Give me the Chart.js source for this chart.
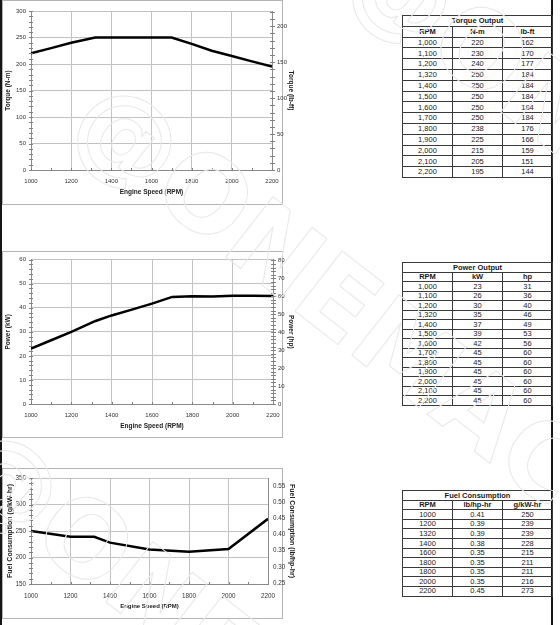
<!DOCTYPE html>
<html>
<head>
<meta charset="utf-8">
<script src="https://cdn.jsdelivr.net/npm/chart.js@4.4.0/dist/chart.umd.min.js"></script>
<style>
    body { margin: 0; width: 560px; height: 625px; position: relative; overflow: hidden; background: #fff; }
    .edge { position: absolute; top: 0; width: 2px; height: 625px; background: #151515; }
    .box { position: absolute; left: 2px; width: 281px; border: 1px solid #b4b4b4; box-sizing: border-box; }
    canvas { position: absolute; left: 0; }
    table { position: absolute; left: 402px; width: 151px; border-collapse: collapse; table-layout: fixed;
        font-family: "Liberation Sans Narrow", "Liberation Sans", sans-serif; font-size: 7.5px; color: #1a1a1a; }
    td { border: 1px solid #3a3a3a; text-align: center; padding: 0; line-height: 1; }
    td.h { font-weight: bold; }
    .wm { position: absolute; font-family: "DejaVu Sans", sans-serif; font-weight: bold; font-size: 105px;
        color: transparent; -webkit-text-stroke: 1px #e8e8e8; white-space: nowrap; transform-origin: 0 0; pointer-events: none; }
</style>
</head>
<body>
<div class="edge" style="left:0"></div>
<div class="edge" style="left:551px"></div>

<div class="box" style="top:0;height:205px"></div>
<div class="box" style="top:251px;height:187px"></div>
<div class="box" style="top:468px;height:151px"></div>

<canvas id="torque" width="300" height="204" style="top:0"></canvas>
<canvas id="power" width="300" height="187" style="top:251px"></canvas>
<canvas id="fuel" width="300" height="150" style="top:468px"></canvas>

<table id="torqueTable" style="top:15px"></table>
<table id="powerTable" style="top:262px"></table>
<table id="fuelTable" style="top:490px"></table>

<div class="wm" style="left:125px;top:55px;transform:rotate(38deg)">@ONEMAC</div>
<div class="wm" style="left:5px;top:400px;transform:rotate(38deg)">@ONEMAC</div>
<div class="wm" style="left:400px;top:-90px;transform:rotate(38deg)">@ONEMAC</div>

<script>
// torque curve
const torqueRpm = [1000, 1100, 1200, 1320, 1400, 1500, 1600, 1700, 1800, 1900, 2000, 2100, 2200];
const torqueNm = [220, 230, 240, 250, 250, 250, 250, 250, 238, 225, 215, 205, 195];
const torqueLbft = [162, 170, 177, 184, 184, 184, 184, 184, 176, 166, 159, 151, 144];
const torqueNmTicks = [0, 50, 100, 150, 200, 250, 300];
const torqueLbftTicks = [0, 50, 100, 150, 200];

// power curve (line, table values separate)
const powerRpm = [1000, 1100, 1200, 1320, 1400, 1500, 1600, 1700, 1800, 1900, 2000, 2100, 2200];
const powerKwLine = [23, 26.5, 30, 34.5, 36.8, 39.2, 41.7, 44.5, 44.8, 44.7, 45, 45, 44.9];
const powerKw = [23, 26, 30, 35, 37, 39, 42, 45, 45, 45, 45, 45, 45];
const powerHp = [31, 36, 40, 46, 49, 53, 56, 60, 60, 60, 60, 60, 60];
const powerKwTicks = [0, 10, 20, 30, 40, 50, 60];
const powerHpTicks = [0, 10, 20, 30, 40, 50, 60, 70, 80];

// fuel consumption
const fuelRpm = [1000, 1200, 1320, 1400, 1600, 1800, 2000, 2200];
const fuelG = [250, 239, 239, 228, 215, 211, 216, 273];
const fuelTableRpm = ["1000", "1200", "1320", "1400", "1600", "1800", "1800", "2000", "2200"];
const fuelTableLb = ["0.41", "0.39", "0.39", "0.38", "0.35", "0.35", "0.35", "0.35", "0.45"];
const fuelTableG = ["250", "239", "239", "228", "215", "211", "211", "216", "273"];
const fuelGTicks = [150, 200, 250, 300, 350];
const fuelLbTicks = [0.25, 0.30, 0.35, 0.40, 0.45, 0.50, 0.55];

const rpmTicks = [1000, 1200, 1400, 1600, 1800, 2000, 2200];

const NM_TO_LBFT = 0.7376;
const KW_TO_HP = 1.341;
const G_TO_LB = 0.001644;

// small tick marks along the axes
const minorTicks = {
    id: "minorTicks",
    afterDraw(chart, args, opts) {
        const ctx = chart.ctx;
        ctx.save();
        ctx.strokeStyle = "#808080";
        ctx.lineWidth = 1;
        ctx.beginPath();
        for (const id in opts.steps) {
            const s = chart.scales[id];
            const step = opts.steps[id];
            if (!s || !step) continue;
            const start = Math.ceil(s.min / step - 1e-6) * step;
            for (let v = start; v <= s.max + 1e-9; v += step) {
                const p = Math.round(s.getPixelForValue(v)) + 0.5;
                if (s.isHorizontal()) {
                    ctx.moveTo(p, s.top - 2); ctx.lineTo(p, s.top + 1);
                } else if (s.position === "left") {
                    ctx.moveTo(s.right - 2, p); ctx.lineTo(s.right + 2, p);
                } else {
                    ctx.moveTo(s.left - 2, p); ctx.lineTo(s.left + 3, p);
                }
            }
        }
        ctx.stroke();
        ctx.restore();
    }
};

function fixTicks(list) {
    return s => { s.ticks = list.map(v => ({value: v})); };
}

function makeChart(id, p) {
    return new Chart(document.getElementById(id), {
        type: "line",
        data: {
            datasets: [{
                data: p.x.map((v, i) => ({x: v, y: p.y[i]})),
                borderColor: "#000",
                borderWidth: 2.5,
                pointRadius: 0,
                tension: 0,
                fill: false,
                yAxisID: "y",
            }]
        },
        options: {
            responsive: false,
            animation: false,
            events: [],
            layout: { padding: { top: p.padTop, bottom: 0, left: 0, right: 0 } },
            plugins: { legend: { display: false }, tooltip: { enabled: false }, minorTicks: { steps: p.minor } },
            scales: {
                x: {
                    type: "linear", min: 1000, max: 2200,
                    afterFit: s => { s.height = 34; },
                    afterBuildTicks: fixTicks(rpmTicks),
                    ticks: { padding: 8, callback: v => String(v), font: p.tickFont, color: "#333", maxRotation: 0 },
                    grid: { color: "#c2c2c2", drawTicks: false },
                    border: { color: "#8a8a8a" },
                    title: { display: true, text: "Engine Speed (RPM)", font: p.xTitleFont, color: "#222", padding: { top: 0, bottom: 8 } },
                },
                y: {
                    min: p.left.min, max: p.left.max,
                    afterFit: s => { s.width = 31; },
                    afterBuildTicks: fixTicks(p.left.ticks),
                    ticks: { padding: 5, font: p.tickFont, color: "#333" },
                    grid: { color: "#c2c2c2", drawTicks: false },
                    border: { color: "#8a8a8a" },
                    title: { display: true, text: p.left.title, font: p.yTitleFont, color: "#222", padding: { top: p.left.titlePad, bottom: 0 } },
                },
                y2: {
                    position: "right",
                    min: p.right.min, max: p.right.max,
                    afterFit: s => { s.width = p.right.width; },
                    afterBuildTicks: fixTicks(p.right.ticks),
                    ticks: { padding: 5, font: p.tickFont, color: "#333", callback: p.right.fmt },
                    grid: { display: false, drawTicks: false },
                    border: { color: "#8a8a8a" },
                    title: { display: true, text: p.right.title, font: p.yTitleFont, color: "#222", padding: { top: p.right.titlePad, bottom: 0 } },
                }
            }
        },
        plugins: [minorTicks]
    });
}

Chart.defaults.font.family = "\"Liberation Sans Narrow\", \"Liberation Sans\", sans-serif";

const narrowTick = { family: "\"Liberation Sans Narrow\", sans-serif", size: 6 };
const narrowTitle = { family: "\"Liberation Sans Narrow\", sans-serif", size: 6.5, weight: "bold" };

makeChart("torque", {
    x: torqueRpm, y: torqueNm, padTop: 11,
    tickFont: narrowTick, xTitleFont: narrowTitle, yTitleFont: narrowTitle,
    minor: { x: 100, y: 10, y2: 10 },
    left: { min: 0, max: 300, ticks: torqueNmTicks, title: "Torque (N-m)", titlePad: 4 },
    right: { min: 0, max: 300 * NM_TO_LBFT, ticks: torqueLbftTicks, title: "Torque (lb-ft)", width: 28, titlePad: 5, fmt: v => String(v) },
});

makeChart("power", {
    x: powerRpm, y: powerKwLine, padTop: 8,
    tickFont: narrowTick, xTitleFont: narrowTitle, yTitleFont: narrowTitle,
    minor: { x: 100, y: 2, y2: 2 },
    left: { min: 0, max: 60, ticks: powerKwTicks, title: "Power (kW)", titlePad: 4 },
    right: { min: 0, max: 60 * KW_TO_HP, ticks: powerHpTicks, title: "Power (hp)", width: 27, titlePad: 5, fmt: v => String(v) },
});

makeChart("fuel", {
    x: fuelRpm, y: fuelG, padTop: 10,
    tickFont: { family: "\"Liberation Sans\", sans-serif", size: 6.3 },
    xTitleFont: { family: "\"Liberation Sans\", sans-serif", size: 6, weight: "bold" },
    yTitleFont: { family: "\"Liberation Sans\", sans-serif", size: 7, weight: "bold" },
    minor: { x: 100, y: 10 },
    left: { min: 150, max: 350, ticks: fuelGTicks, title: "Fuel Consumption (g/kW-hr)", titlePad: 6 },
    right: { min: 150 * G_TO_LB, max: 350 * G_TO_LB, ticks: fuelLbTicks, title: "Fuel Consumption (lb/hp-hr)", width: 32, titlePad: 4, fmt: v => v.toFixed(2) },
});

// the data tables on the right
function fillTable(id, title, heads, cols, rowH) {
    const t = document.getElementById(id);
    let html = `<tr style="height:${rowH}px"><td class="h" colspan="3">${title}</td></tr>`;
    html += `<tr style="height:${rowH}px">` + heads.map(h => `<td class="h">${h}</td>`).join("") + "</tr>";
    for (let i = 0; i < cols[0].length; i++) {
        html += `<tr style="height:${rowH}px">` + cols.map(c => `<td>${c[i]}</td>`).join("") + "</tr>";
    }
    t.innerHTML = html;
}

const withComma = v => v.toLocaleString("en-US");
fillTable("torqueTable", "Torque Output", ["RPM", "N-m", "lb-ft"], [torqueRpm.map(withComma), torqueNm, torqueLbft], 10.8);
fillTable("powerTable", "Power Output", ["RPM", "kW", "hp"], [powerRpm.map(withComma), powerKw, powerHp], 9.5);
fillTable("fuelTable", "Fuel Consumption", ["RPM", "lb/hp-hr", "g/kW-hr"], [fuelTableRpm, fuelTableLb, fuelTableG], 9.6);
</script>
</body>
</html>
